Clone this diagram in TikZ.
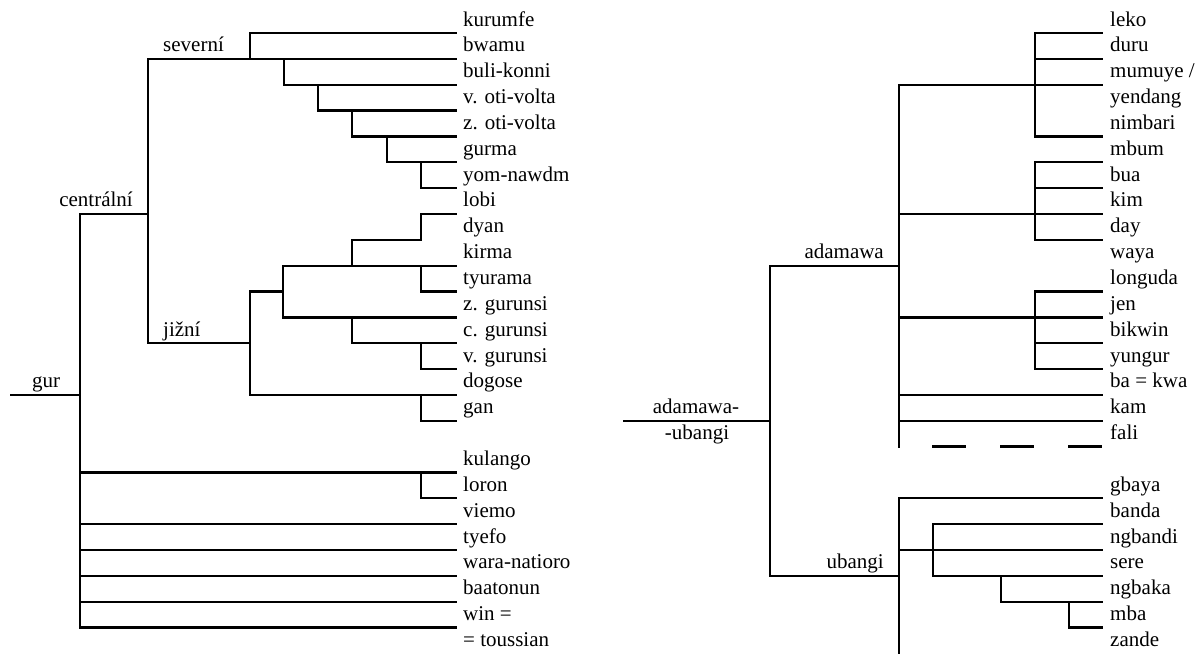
\documentclass[tikz,border=0pt]{standalone}
\usepackage{fontspec}
\setmainfont{Liberation Serif}
\usetikzlibrary{calc}
\tikzset{
  branch/.style={line width=2.3pt,line join=miter,line cap=rect},
  gapline/.style={line width=2.3pt,dash pattern=on 34pt off 34pt},
  leafname/.style={anchor=base west,inner sep=0pt,font=\fontsize{21}{25}\selectfont},
  cladename/.style={anchor=base,inner sep=0pt,font=\fontsize{21}{25}\selectfont}
}

\begin{document}
\begin{tikzpicture}[x=1pt,y=-25.85pt]
  \useasboundingbox (0,-1.277) rectangle (1202,23.985);
  % leaves of the gur tree
  \foreach \i/\t in {0/kurumfe,1/bwamu,2/buli-konni,3/v. oti-volta,4/z. oti-volta,
    5/gurma,6/yom-nawdm,7/lobi,8/dyan,9/kirma,10/tyurama,11/z. gurunsi,
    12/c. gurunsi,13/v. gurunsi,14/dogose,15/gan,17/kulango,18/loron,
    19/viemo,20/tyefo,21/wara-natioro,22/baatonun,23/win =,24/= toussian}
    {\node[leafname] (g\i) at (463,\i-0.27) {\t};
     \coordinate (gE\i) at (456,\i);}
  % leaves of the adamawa-ubangi tree
  \foreach \i/\t in {0/leko,1/duru,2/{mumuye /},3/yendang,4/nimbari,5/mbum,
    6/bua,7/kim,8/day,9/waya,10/longuda,11/jen,12/bikwin,13/yungur,
    14/ba = kwa,15/kam,16/fali,18/gbaya,19/banda,20/ngbandi,21/sere,
    22/ngbaka,23/mba,24/zande}
    {\node[leafname] (a\i) at (1110,\i-0.27) {\t};
     \coordinate (aE\i) at (1102,\i);}

  % gur
  \coordinate (groot) at (11,14);
  \coordinate (gjn) at (80,14);
  \coordinate (cen) at (148,7);
  \node[cladename] (lgur) at (46,14-0.27) {gur};
  \node[cladename] (lcen) at (96,7-0.27) {centrální};
  \node[cladename,anchor=base west] (lsev) at (163,1-0.27) {severní};
  \node[cladename,anchor=base west] (ljiz) at (163,12-0.27) {jižní};
  \draw[branch] (groot) -- (gjn);
  \draw[branch] (gjn |- gE7) -- (gjn |- gE23);
  \draw[branch] (gjn |- cen) -- (cen);
  \draw[branch] (cen |- gE1) -- (cen |- gE12);
  % severní
  \coordinate (s0) at (250,1);
  \coordinate (s1) at (284,1);
  \coordinate (s2) at (318,2);
  \coordinate (s3) at (352,3);
  \coordinate (s4) at (387,4);
  \coordinate (s5) at (421,5);
  \draw[branch] (cen |- gE1) -- (gE1);
  \draw[branch] (s0) |- (gE0);
  \draw[branch] (s1) |- (gE2);
  \draw[branch] (s2) |- (gE3);
  \draw[branch] (s3) |- (gE4);
  \draw[branch] (s4) |- (gE5);
  \draw[branch] (s5) |- (gE6);
  % jižní
  \coordinate (j0) at (250,10);
  \coordinate (j1) at (283,10);
  \coordinate (d0) at (352,9);
  \coordinate (d1) at (421,8);
  \coordinate (t0) at (421,9);
  \coordinate (c0) at (352,11);
  \coordinate (c1) at (421,12);
  \coordinate (n0) at (421,14);
  \draw[branch] (cen |- gE12) -- (j0 |- gE12);
  \draw[branch] (j0) |- (gE14);
  \draw[branch] (j0) -- (j1);
  \draw[branch] (gE9) -| (j1 |- gE11) -- (gE11);
  \draw[branch] (d0) |- (d1) |- (gE7);
  \draw[branch] (t0) |- (gE10);
  \draw[branch] (c0) |- (gE12);
  \draw[branch] (c1) |- (gE13);
  \draw[branch] (n0) |- (gE15);
  % the other gur branches
  \coordinate (k0) at (421,17);
  \draw[branch] (k0) |- (gE18);
  \foreach \i in {17,19,20,21,22,23}
    \draw[branch] (gjn |- gE\i) -- (gE\i);

  % adamawa-ubangi
  \coordinate (aroot) at (624,15);
  \coordinate (ajn) at (770,15);
  \coordinate (ada) at (899,9);
  \coordinate (uba) at (899,21);
  \node[cladename] (laub1) at (696,15-0.27) {adamawa-};
  \node[cladename] (laub2) at (697,15.74) {-ubangi};
  \node[cladename,anchor=base east] (lada) at (884,9-0.27) {adamawa};
  \node[cladename,anchor=base east] (luba) at (884,21-0.27) {ubangi};
  \draw[branch] (aroot) -- (ajn);
  \draw[branch] (ajn |- ada) -- (ajn |- uba);
  % adamawa
  \coordinate (m0) at (1035,0);
  \coordinate (dash) at (932,16);
  \draw[branch] (ajn |- ada) -- (ada);
  \draw[branch] (ada |- aE2) -- (ada |- aE16);
  \foreach \i in {2,7,11,14,15}
    \draw[branch] (ada |- aE\i) -- (aE\i);
  \draw[branch] (aE0) -| (m0 |- aE4) -- (aE4);
  \draw[branch] (aE5) -| (m0 |- aE8) -- (aE8);
  \draw[branch] (aE10) -| (m0 |- aE13) -- (aE13);
  \foreach \i in {1,6,12}
    \draw[branch] (m0 |- aE\i) -- (aE\i);
  \draw[gapline] (dash) -- (aE16);
  % ubangi
  \coordinate (b0) at (933,19);
  \coordinate (b1) at (1001,21);
  \coordinate (b2) at (1069,22);
  \draw[branch] (ajn |- uba) -- (uba);
  \draw[branch] (uba |- aE18) -- (uba |- aE24);
  \draw[branch] (uba |- aE18) -- (aE18);
  \draw[branch] (uba |- aE20) -- (aE20);
  \draw[branch] (aE19) -| (b0 |- aE21) -- (aE21);
  \draw[branch] (b1) |- (aE22);
  \draw[branch] (b2) |- (aE23);
\end{tikzpicture}
\end{document}
